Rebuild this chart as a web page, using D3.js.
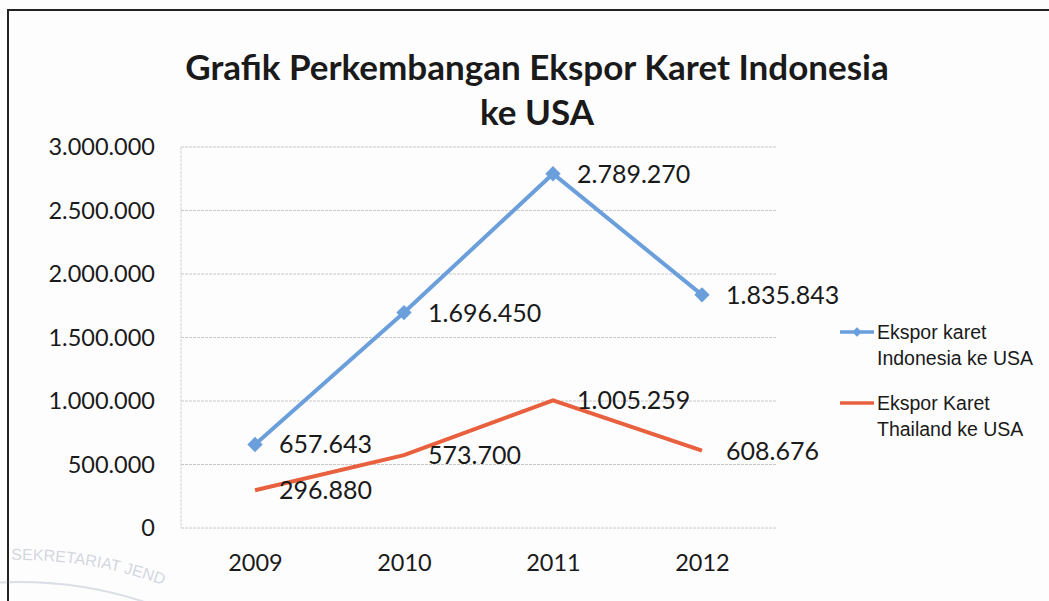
<!DOCTYPE html>
<html>
<head>
<meta charset="utf-8">
<script src="https://cdn.jsdelivr.net/npm/d3@7"></script>
<style>
  body { margin: 0; background: #fdfdfd; }
  svg { display: block; }
</style>
</head>
<body>
<svg width="1049" height="601"></svg>
<script>
// data
const years = ["2009", "2010", "2011", "2012"]
const indonesia = [657643, 1696450, 2789270, 1835843]
const thailand = [296880, 573700, 1005259, 608676]
const yTicks = [0, 500000, 1000000, 1500000, 2000000, 2500000, 3000000]
const seriesNames = [["Ekspor karet", "Indonesia ke USA"], ["Ekspor Karet", "Thailand ke USA"]]

const blue = "#6a9fdc"
const red = "#e8603e"

const svg = d3.select("svg")

// scan border (top + left)
svg.append("path")
  .attr("d", "M8,601 L8,10 L1049,10")
  .attr("fill", "none")
  .attr("stroke", "#222")
  .attr("stroke-width", 2)

// faint stamp in the corner
const stamp = svg.append("g").attr("opacity", 0.25)
stamp.append("path").attr("id", "stampArc")
  .attr("d", "M-38.5,564.1 A420,420 0 0,1 230,616.3")
  .attr("fill", "none")
stamp.append("circle").attr("cx", 20).attr("cy", 980).attr("r", 398)
  .attr("fill", "none").attr("stroke", "#7c86a8").attr("stroke-width", 2)
stamp.append("circle").attr("cx", 20).attr("cy", 980).attr("r", 376)
  .attr("fill", "none").attr("stroke", "#7c86a8").attr("stroke-width", 1.5)
stamp.append("text")
  .attr("font-family", "Liberation Sans, Arial, sans-serif")
  .attr("font-size", 16).attr("fill", "#5a648a")
  .append("textPath").attr("href", "#stampArc").attr("startOffset", 50)
  .text("SEKRETARIAT JEND")

const x = d3.scalePoint().domain(years).range([255, 702])
const y = d3.scaleLinear().domain([0, 3000000]).range([528, 147])

const fmt = d => d3.format(",")(d).replace(/,/g, ".")
const font = "Lato, 'Open Sans', sans-serif"

// gridlines
svg.append("g")
  .selectAll("line")
  .data(yTicks)
  .join("line")
  .attr("x1", 181).attr("x2", 777)
  .attr("y1", d => y(d)).attr("y2", d => y(d))
  .attr("stroke", "#c8c8c8")
  .attr("stroke-width", 1)
  .attr("stroke-dasharray", "3,1")

// plot area left edge
svg.append("line")
  .attr("x1", 181).attr("x2", 181).attr("y1", y(3000000)).attr("y2", y(0))
  .attr("stroke", "#d0d0d0").attr("stroke-dasharray", "3,1")

// y axis
const yAxis = svg.append("g")
  .attr("transform", "translate(155,0)")
  .call(d3.axisLeft(y).tickValues(yTicks).tickFormat(fmt).tickSize(0).tickPadding(0))
yAxis.select(".domain").remove()
yAxis.selectAll("text")
  .attr("font-family", font)
  .attr("font-size", 23.5).attr("fill", "#1a1a1a")

// x axis
const xAxis = svg.append("g")
  .attr("transform", "translate(0,563)")
  .call(d3.axisBottom(x).tickSize(0).tickPadding(0))
xAxis.select(".domain").remove()
xAxis.selectAll("text")
  .attr("font-family", font)
  .attr("font-size", 23.5).attr("fill", "#1a1a1a")
  .attr("dy", "0.36em")

// title
const title = svg.append("text")
  .attr("text-anchor", "middle")
  .attr("font-family", font)
  .attr("font-weight", "bold")
  .attr("font-size", 35)
  .attr("fill", "#1a1a1a")
title.append("tspan").attr("x", 537).attr("y", 80).text("Grafik Perkembangan Ekspor Karet Indonesia")
title.append("tspan").attr("x", 537).attr("y", 125).text("ke USA")

const line = d3.line().x((d, i) => x(years[i])).y(d => y(d))

// Thailand line
svg.append("path")
  .datum(thailand)
  .attr("d", line)
  .attr("fill", "none")
  .attr("stroke", red)
  .attr("stroke-width", 4)

// Indonesia line + diamonds
svg.append("path")
  .datum(indonesia)
  .attr("d", line)
  .attr("fill", "none")
  .attr("stroke", blue)
  .attr("stroke-width", 4)

const diamond = d3.symbol().type(d3.symbolDiamond2).size(150)
svg.append("g")
  .selectAll("path")
  .data(indonesia)
  .join("path")
  .attr("d", diamond)
  .attr("transform", (d, i) => `translate(${x(years[i])},${y(d)})`)
  .attr("fill", blue)

// data labels
const addLabels = (vals) => {
  svg.append("g")
    .selectAll("text")
    .data(vals)
    .join("text")
    .attr("x", (d, i) => x(years[i]) + 24)
    .attr("y", d => y(d))
    .attr("dy", "0.36em")
    .attr("font-family", font)
    .attr("font-size", 25)
    .attr("fill", "#1a1a1a")
    .text(fmt)
}
addLabels(indonesia)
addLabels(thailand)

// legend
const legend = svg.append("g")
const legendRows = [
  {color: blue, y: 332, marker: true, lines: seriesNames[0]},
  {color: red, y: 403, marker: false, lines: seriesNames[1]}
]
legendRows.forEach(r => {
  legend.append("line")
    .attr("x1", 840).attr("x2", 874).attr("y1", r.y).attr("y2", r.y)
    .attr("stroke", r.color).attr("stroke-width", 3.5)
  if (r.marker) {
    legend.append("path")
      .attr("d", d3.symbol().type(d3.symbolDiamond2).size(60))
      .attr("transform", `translate(857,${r.y})`)
      .attr("fill", r.color)
  }
  const t = legend.append("text")
    .attr("font-family", "'Liberation Sans Narrow', 'Liberation Sans', Arial, sans-serif")
    .attr("font-size", 19.5)
    .attr("fill", "#1a1a1a")
  r.lines.forEach((s, k) => {
    t.append("tspan").attr("x", 877).attr("y", r.y + 7 + k * 26).text(s)
  })
})
</script>
</body>
</html>
